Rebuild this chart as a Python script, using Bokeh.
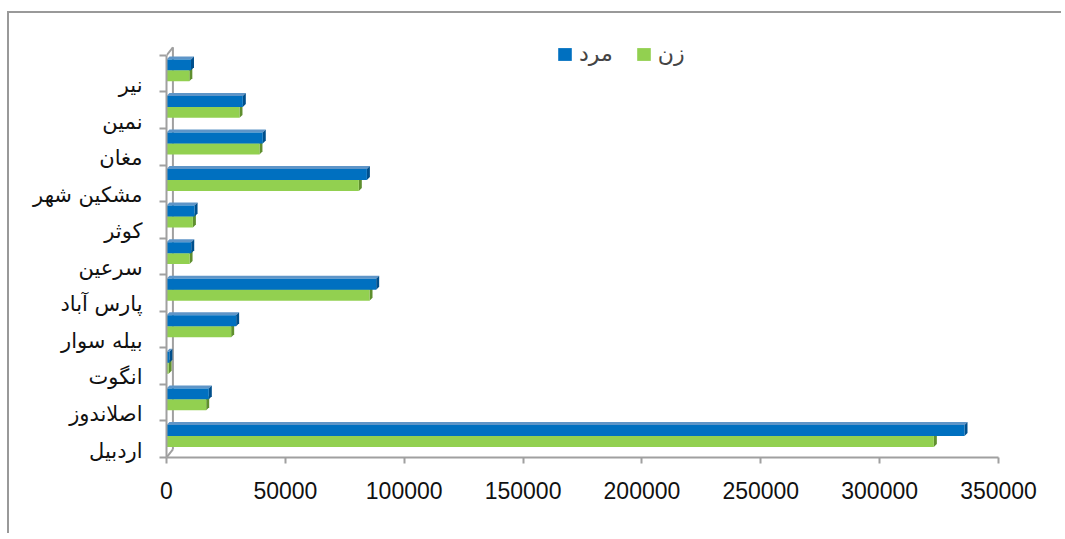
from bokeh.plotting import figure
from bokeh.models import Range1d, FixedTicker, ColumnDataSource, Legend, LegendItem
from bokeh.embed import file_html
from bokeh.resources import INLINE

# ---------------- data ----------------
categories = ["اردبیل", "اصلاندوز", "انگوت", "بیله سوار", "پارس آباد", "سرعین",
              "کوثر", "مشکین شهر", "مغان", "نمین", "نیر"]
men = [335700, 17800, 1200, 29300, 88200, 10400, 11800, 84300, 40500, 32100, 10300]
women = [322800, 16700, 900, 27200, 85400, 9700, 11100, 80900, 39100, 30700, 9600]
series_names = ["مرد", "زن"]
x_ticks = [0, 50000, 100000, 150000, 200000, 250000, 300000, 350000]

# ---------------- style ----------------
BLUE, BLUE_TOP, BLUE_SIDE = "#0070C0", "#5E95C8", "#004F8C"
GREEN, GREEN_TOP, GREEN_SIDE = "#92D050", "#7DB443", "#5F8F2E"
AXIS = "#A0A0A0"

X_END = 350000
Y_START, Y_END = -0.5, 11.18
BAR_H = 0.30
MEN_OFF, WOMEN_OFF = 0.24, -0.06
LABEL_OFF = -0.31
DX, DY = 1262, 0.082          # 3D depth of the bars (≈3 px each way)
WALL_DX, WALL_DY = 2700, 0.22  # depth of the back wall

p = figure(width=1054, height=522, output_backend="svg", toolbar_location=None,
           x_range=Range1d(0, X_END), y_range=Range1d(Y_START, Y_END),
           min_border_left=157, min_border_right=65, min_border_top=17,
           min_border_bottom=78)
p.styles = {"border-left": "2px solid #999999", "border-top": "2px solid #999999",
            "margin-left": "7px", "margin-top": "11px"}
p.outline_line_color = None
p.xgrid.visible = False
p.ygrid.visible = False
p.background_fill_color = "white"
p.border_fill_color = "white"

# back wall of the 3D chart
n = len(categories)
lo_edge, hi_edge = -0.5, n - 0.5
p.segment(x0=[WALL_DX, 0, 0], y0=[lo_edge + WALL_DY, hi_edge, lo_edge],
          x1=[WALL_DX, WALL_DX, WALL_DX], y1=[hi_edge + WALL_DY, hi_edge + WALL_DY, lo_edge + WALL_DY],
          line_color=AXIS, line_width=2)


def faces(values, offset):
    sx, sy, tx, ty = [], [], [], []
    b, t, r = [], [], []
    for i, v in enumerate(values):
        c = i + offset
        lo, hi = c - BAR_H / 2, c + BAR_H / 2
        b.append(lo); t.append(hi); r.append(v)
        sx.append([v, v + DX, v + DX, v]); sy.append([lo, lo + DY, hi + DY, hi])
        tx.append([0, v, v + DX, DX]); ty.append([hi, hi, hi + DY, hi + DY])
    front = ColumnDataSource(dict(left=[0] * len(values), right=r, bottom=b, top=t))
    side = ColumnDataSource(dict(xs=sx, ys=sy))
    top = ColumnDataSource(dict(xs=tx, ys=ty))
    return front, side, top


renderers = {}
for name, vals, off, col, col_top, col_side in [
        (series_names[1], women, WOMEN_OFF, GREEN, GREEN_TOP, GREEN_SIDE),
        (series_names[0], men, MEN_OFF, BLUE, BLUE_TOP, BLUE_SIDE)]:
    front, side, top = faces(vals, off)
    p.patches("xs", "ys", source=top, fill_color=col_top, line_color=None)
    p.patches("xs", "ys", source=side, fill_color=col_side, line_color=None)
    renderers[name] = p.quad(left="left", right="right", bottom="bottom", top="top",
                             source=front, fill_color=col, line_color=None)

# ---------------- axes ----------------
xa = p.xaxis[0]
xa.ticker = FixedTicker(ticks=x_ticks)
xa.formatter.use_scientific = False
xa.axis_line_color = AXIS
xa.axis_line_width = 2
xa.major_tick_line_color = AXIS
xa.major_tick_line_width = 2
xa.major_tick_out = 6
xa.major_tick_in = 0
xa.minor_tick_line_color = None
xa.major_label_standoff = 18
xa.major_label_text_font = "Liberation Sans"
xa.major_label_text_font_size = "23px"
xa.major_label_text_color = "#111111"

ya = p.yaxis[0]
ya.bounds = (lo_edge, hi_edge)
ya.ticker = FixedTicker(ticks=[i + LABEL_OFF for i in range(n)],
                        minor_ticks=[i - 0.5 for i in range(n + 1)])
ya.major_label_overrides = {i + LABEL_OFF: c for i, c in enumerate(categories)}
ya.axis_line_color = AXIS
ya.axis_line_width = 2
ya.major_tick_line_color = None
ya.minor_tick_line_color = AXIS
ya.minor_tick_line_width = 2
ya.minor_tick_out = 7
ya.minor_tick_in = 0
ya.major_label_standoff = 17
ya.major_label_text_font = "DejaVu Sans"
ya.major_label_text_font_size = "21px"
ya.major_label_text_color = "#111111"

# ---------------- legend ----------------
legend = Legend(items=[LegendItem(label=series_names[0], renderers=[renderers[series_names[0]]]),
                       LegendItem(label=series_names[1], renderers=[renderers[series_names[1]]])],
                orientation="horizontal", location=(390, 391),
                background_fill_alpha=0, border_line_color=None,
                label_text_font="DejaVu Sans", label_text_font_size="22px",
                glyph_width=17, glyph_height=16, spacing=22, label_standoff=6,
                padding=4, margin=0)
p.add_layout(legend)

open("out.html", "w").write(file_html(p, INLINE))
